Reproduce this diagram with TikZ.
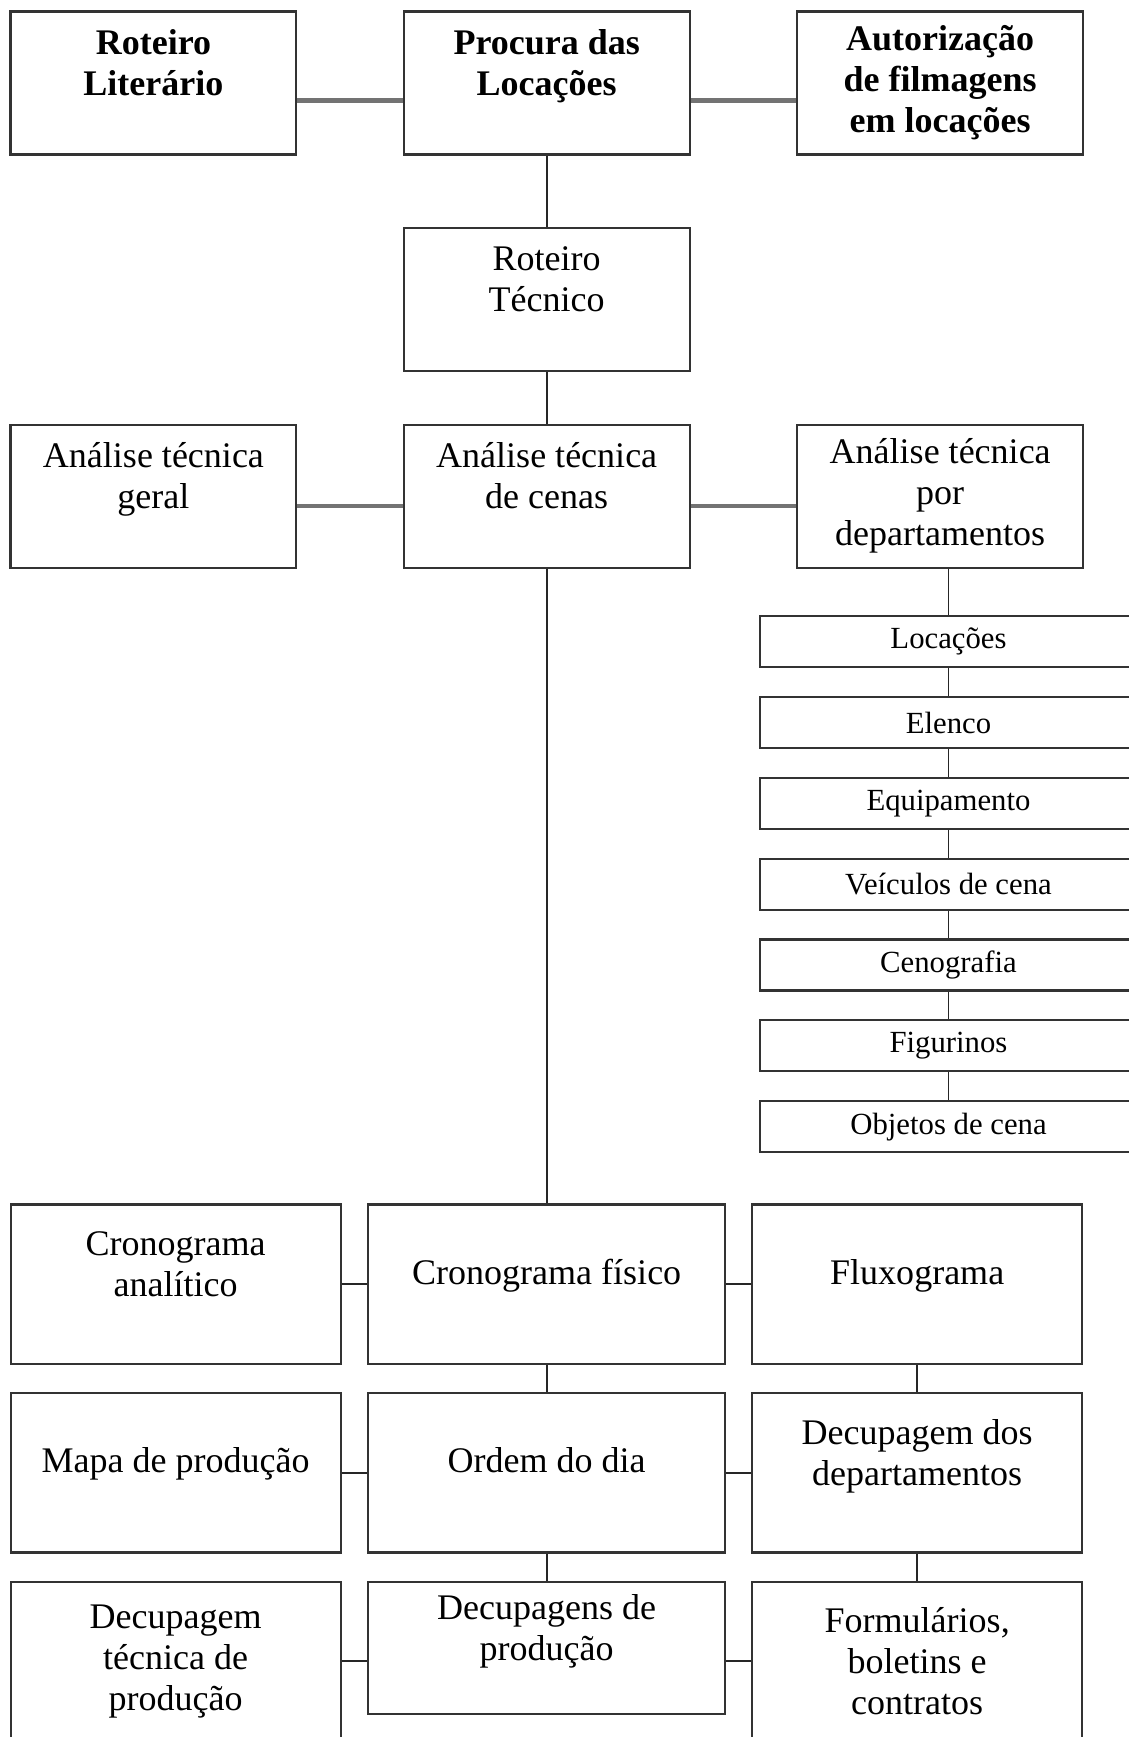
\documentclass[tikz,border=0pt]{standalone}
\usepackage{fontspec}
\setmainfont{Liberation Serif}
\usetikzlibrary{positioning}

\begin{document}
\begin{tikzpicture}[-,auto,node distance=0.54cm,thick,
  box/.style={rectangle,draw=black!80,line width=1.2pt,align=center,inner sep=0pt,
    font=\fontsize{20.5}{23.3}\selectfont},
  bold/.style={font=\fontsize{20.5}{23.3}\selectfont\bfseries},
  big box/.style={box,minimum width=5.72cm,minimum height=2.86cm},
  wide box/.style={box,minimum width=6.6cm,minimum height=3.19cm},
  dept box/.style={box,minimum width=7.53cm,minimum height=1.02cm,
    font=\fontsize{17.5}{20}\selectfont},
  gray link/.style={draw=black!55,line width=2.6pt},
  thin link/.style={draw=black!85,line width=1pt}]

  \useasboundingbox (0,0) rectangle (22.58,-34.75);

  % top rows
  \node[big box,bold] (rl) at (3.07,-1.66) {Roteiro\\Literário\\~};
  \node[big box,bold] (pl) [right=2.105cm of rl] {Procura das\\Locações\\~};
  \node[big box,bold] (afl) [right=2.11cm of pl] {Autorização\\de filmagens\\em locações};
  \node[big box] (rt) [below=1.43cm of pl] {Roteiro\\Técnico\\~};
  \node[big box] (atc) [below=1.03cm of rt] {Análise técnica\\de cenas\\~};
  \node[big box] (atg) [left=2.105cm of atc] {Análise técnica\\geral\\~};
  \node[big box] (atd) [right=2.11cm of atc] {Análise técnica\\por\\departamentos};

  % departamentos
  \node[dept box] (d1) [below=0.93cm of atd, xshift=0.166cm] {Locações};
  \foreach \n/\p/\t in {2/1/Elenco,3/2/Equipamento,4/3/Veículos de cena,
      5/4/Cenografia,6/5/Figurinos,7/6/Objetos de cena} {
    \node[dept box] (d\n) [below=0.555cm of d\p] {\t};
    \path[thin link] (d\p) edge (d\n);
  }

  % bottom rows
  \node[wide box,minimum width=7.14cm] (cf) [below=12.70cm of atc] {~\\Cronograma físico\\~};
  \node[wide box] (ca) [left=0.51cm of cf] {Cronograma\\analítico\\~};
  \node[wide box] (fx) [right=0.5cm of cf] {~\\Fluxograma\\~};
  \node[wide box,minimum width=7.14cm] (od) [below=of cf] {~\\Ordem do dia\\~};
  \node[wide box] (mp) [left=0.51cm of od] {~\\Mapa de produção\\~};
  \node[wide box] (dd) [right=0.5cm of od] {Decupagem dos\\departamentos\\~};
  \node[wide box,minimum width=7.14cm,minimum height=2.64cm] (dp) [below=of od] {Decupagens de\\produção\\~};
  \node[wide box] (dtp) [below=of mp] {Decupagem\\técnica de\\produção};
  \node[wide box] (fbc) [below=of dd] {Formulários,\\boletins e\\contratos};

  \path[gray link] ([yshift=-0.355cm]rl.east) edge ([yshift=-0.355cm]pl.west);
  \path[gray link] ([yshift=-0.355cm]pl.east) edge ([yshift=-0.355cm]afl.west);
  \path[gray link] ([yshift=-0.2cm]atg.east) edge ([yshift=-0.2cm]atc.west);
  \path[gray link] ([yshift=-0.2cm]atc.east) edge ([yshift=-0.2cm]atd.west);

  \path[thin link] (pl) edge (rt);
  \path[thin link] (rt) edge (atc);
  \path[thin link] (atc) edge (cf);
  \path[thin link] (d1.north |- atd.south) edge (d1.north);

  \path[thin link] (ca) edge (cf);
  \path[thin link] (cf) edge (fx);
  \path[thin link] (mp) edge (od);
  \path[thin link] (od) edge (dd);
  \path[thin link] (dtp.east) edge (dtp.east -| dp.west);
  \path[thin link] (fbc.west) edge (fbc.west -| dp.east);
  \path[thin link] (cf) edge (od);
  \path[thin link] (od) edge (dp);
  \path[thin link] (fx) edge (dd);
  \path[thin link] (dd) edge (fbc);
\end{tikzpicture}
\end{document}
